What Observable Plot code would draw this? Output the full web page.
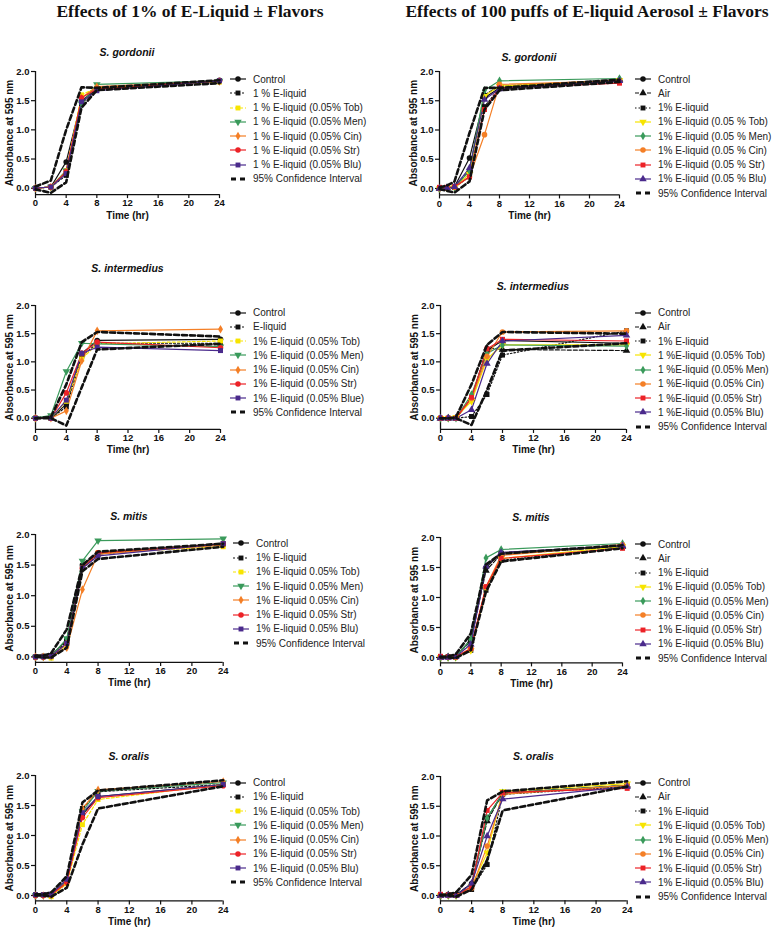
<!DOCTYPE html>
<html><head><meta charset="utf-8">
<script src="https://cdn.jsdelivr.net/npm/d3@7"></script>
<script src="https://cdn.jsdelivr.net/npm/@observablehq/plot@0.6"></script>
<style>
html,body{margin:0;padding:0;background:#fff;}
body{width:777px;height:929px;overflow:hidden;position:relative;font-family:"Liberation Sans",Arial,sans-serif;color:#111;}
.main-title{position:absolute;font-family:"Liberation Serif","Times New Roman",serif;font-weight:bold;font-size:17.5px;white-space:nowrap;transform:translateX(-50%);line-height:20px;}
.ptitle{position:absolute;font-weight:bold;font-style:italic;font-size:10.5px;white-space:nowrap;transform:translate(-50%,-50%);line-height:1;}
.lrow{position:absolute;display:flex;align-items:center;height:14px;font-size:10px;white-space:nowrap;color:#222;}
.lrow svg{flex:none;}
.lrow span{margin-left:7px;}
</style></head>
<body>
<div class="main-title" style="left:190px;top:1px;">Effects of 1% of E-Liquid ± Flavors</div>
<div class="main-title" style="left:587px;top:1px;">Effects of 100 puffs of E-liquid Aerosol ± Flavors</div>
<script>
// ---------- DATA ----------
const timesA = [0, 2, 4, 6, 8, 24];
const timesB = [0, 1, 2, 4, 6, 8, 24];

const liquidKeys = ["Control", "E-liquid", "Tob", "Men", "Cin", "Str", "Blu"];
const aerosolKeys = ["Control", "Air", "E-liquid", "Tob", "Men", "Cin", "Str", "Blu"];
const ciKeys = ["CI upper", "CI lower"];

// rows follow liquidKeys / aerosolKeys, then CI upper, CI lower
const gordoniiLiquid = [
  [0, 0.02, 0.45, 1.50, 1.70, 1.85],
  [0, 0.02, 0.22, 1.45, 1.70, 1.83],
  [0, 0.02, 0.30, 1.60, 1.72, 1.82],
  [0, 0.02, 0.30, 1.45, 1.78, 1.84],
  [0, 0.02, 0.28, 1.55, 1.74, 1.83],
  [0, 0.02, 0.28, 1.55, 1.70, 1.84],
  [0, 0.02, 0.25, 1.48, 1.67, 1.84],
  [0.03, 0.13, 1.00, 1.73, 1.72, 1.85],
  [-0.02, -0.08, 0.10, 1.38, 1.68, 1.80]
];
const gordoniiAerosol = [
  [0, 0.01, 0.03, 0.52, 1.55, 1.72, 1.85],
  [0, 0.01, 0.03, 0.30, 1.60, 1.75, 1.86],
  [0, 0.01, 0.02, 0.20, 1.40, 1.72, 1.84],
  [0, 0.01, 0.02, 0.25, 1.58, 1.75, 1.85],
  [0, 0.01, 0.02, 0.30, 1.68, 1.84, 1.88],
  [0, 0.01, 0.02, 0.20, 0.92, 1.78, 1.84],
  [0.02, 0.02, 0.03, 0.20, 1.35, 1.72, 1.80],
  [0, 0.01, 0.03, 0.35, 1.52, 1.70, 1.84],
  [0.02, 0.05, 0.12, 0.95, 1.72, 1.72, 1.86],
  [-0.01, -0.04, -0.07, 0.12, 1.35, 1.68, 1.82]
];
const intermediusLiquid = [
  [0, 0, 0.25, 1.15, 1.38, 1.40],
  [0, 0, 0.20, 1.10, 1.33, 1.33],
  [0, 0, 0.30, 1.05, 1.32, 1.37],
  [0, 0.05, 0.83, 1.33, 1.32, 1.27],
  [0, 0, 0.13, 1.02, 1.55, 1.58],
  [0, 0, 0.45, 1.15, 1.35, 1.25],
  [0, 0, 0.32, 1.15, 1.26, 1.20],
  [0, 0.02, 0.60, 1.35, 1.53, 1.45],
  [0, 0, -0.13, 0.55, 1.22, 1.32]
];
const intermediusAerosol = [
  [0, 0, 0, 0.35, 1.20, 1.38, 1.33],
  [0, 0, 0, 0.35, 1.25, 1.22, 1.20],
  [0, 0, 0, 0.03, 0.42, 1.12, 1.55],
  [0, 0, 0.02, 0.30, 1.05, 1.30, 1.30],
  [0, 0, 0, 0.42, 1.15, 1.30, 1.28],
  [0, 0, 0, 0.35, 1.10, 1.53, 1.55],
  [0, 0, 0, 0.37, 1.23, 1.40, 1.37],
  [0, 0, 0, 0.15, 0.97, 1.37, 1.47],
  [0, 0, 0.02, 0.60, 1.30, 1.53, 1.50],
  [0, 0, 0, -0.12, 0.50, 1.20, 1.33]
];
const mitisLiquid = [
  [0, 0.01, 0.02, 0.28, 1.50, 1.70, 1.83],
  [0, 0.01, 0.02, 0.25, 1.45, 1.68, 1.85],
  [0, 0, -0.02, 0.20, 1.45, 1.70, 1.80],
  [0, 0, 0.01, 0.30, 1.57, 1.90, 1.93],
  [0, 0, 0.01, 0.15, 1.10, 1.68, 1.83],
  [0, 0, 0.01, 0.22, 1.45, 1.70, 1.85],
  [0, 0, 0.01, 0.22, 1.45, 1.65, 1.85],
  [0.02, 0.02, 0.06, 0.45, 1.50, 1.72, 1.85],
  [0, -0.01, -0.01, 0.15, 1.40, 1.60, 1.80]
];
const mitisAerosol = [
  [0, 0.01, 0.01, 0.30, 1.50, 1.75, 1.85],
  [0, 0.01, 0.01, 0.28, 1.45, 1.72, 1.85],
  [0, 0.01, 0.01, 0.12, 1.12, 1.62, 1.83],
  [0, 0, 0, 0.12, 1.15, 1.65, 1.85],
  [0, 0, 0.01, 0.30, 1.66, 1.80, 1.90],
  [0, 0, 0.01, 0.15, 1.18, 1.70, 1.88],
  [0.02, 0.01, 0.01, 0.15, 1.18, 1.65, 1.82],
  [0, 0, 0.01, 0.22, 1.52, 1.75, 1.86],
  [0.01, 0.02, 0.05, 0.40, 1.55, 1.73, 1.87],
  [0, 0, -0.01, 0.12, 1.10, 1.60, 1.82]
];
const oralisLiquid = [
  [0.01, 0.01, 0.02, 0.25, 1.35, 1.65, 1.85],
  [0.01, 0.01, 0.02, 0.25, 1.45, 1.73, 1.85],
  [0, 0, -0.02, 0.20, 1.18, 1.60, 1.85],
  [0, 0, 0, 0.25, 1.40, 1.74, 1.88],
  [0, 0, 0.01, 0.20, 1.45, 1.76, 1.90],
  [0, 0, 0.01, 0.22, 1.30, 1.63, 1.83],
  [0.01, 0.01, 0.02, 0.27, 1.38, 1.65, 1.85],
  [0.02, 0.02, 0.05, 0.32, 1.55, 1.75, 1.92],
  [0, 0, -0.02, 0.13, 0.85, 1.45, 1.82]
];
const oralisAerosol = [
  [0, 0.01, 0.01, 0.20, 1.30, 1.72, 1.85],
  [0, 0.01, 0.01, 0.20, 1.25, 1.72, 1.85],
  [0, 0.01, 0.01, 0.10, 0.52, 1.70, 1.83],
  [0, 0, 0, 0.15, 0.72, 1.75, 1.88],
  [0, 0, 0, 0.15, 1.30, 1.72, 1.85],
  [0, 0, 0, 0.12, 0.83, 1.70, 1.85],
  [0.02, 0.01, 0, 0.15, 1.43, 1.73, 1.80],
  [0, 0, 0, 0.20, 1.00, 1.62, 1.83],
  [0.01, 0.02, 0.05, 0.35, 1.60, 1.75, 1.92],
  [0, 0, -0.02, 0.10, 0.60, 1.43, 1.83]
];

const yTicks = [0, 0.5, 1.0, 1.5, 2.0];
const xTicks = [0, 4, 8, 12, 16, 20, 24];

const gordoniiLiquidLabels = ["Control", "1 % E-liquid", "1 % E-liquid (0.05% Tob)", "1 % E-liquid (0.05% Men)", "1 % E-liquid (0.05% Cin)", "1 % E-liquid (0.05% Str)", "1 % E-liquid (0.05% Blu)", "95% Confidence Interval"];
const gordoniiAerosolLabels = ["Control", "Air", "1% E-liquid", "1% E-liquid (0.05 % Tob)", "1% E-liquid (0.05 % Men)", "1% E-liquid (0.05 % Cin)", "1% E-liquid (0.05 % Str)", "1% E-liquid (0.05 % Blu)", "95% Confidence Interval"];
const intermediusLiquidLabels = ["Control", "E-liquid", "1% E-liquid (0.05% Tob)", "1% E-liquid (0.05% Men)", "1% E-liquid (0.05% Cin)", "1% E-liquid (0.05% Str)", "1% E-liquid (0.05% Blue)", "95% Confidence Interval"];
const intermediusAerosolLabels = ["Control", "Air", "1% E-liquid", "1 %E-liquid (0.05% Tob)", "1 %E-liquid (0.05% Men)", "1 %E-liquid (0.05% Cin)", "1 %E-liquid (0.05% Str)", "1 %E-liquid (0.05% Blu)", "95% Confidence Interval"];
const mitisLiquidLabels = ["Control", "1% E-liquid", "1% E-liquid 0.05% Tob)", "1% E-liquid 0.05% Men)", "1% E-liquid 0.05% Cin)", "1% E-liquid 0.05% Str)", "1% E-liquid 0.05% Blu)", "95% Confidence Interval"];
const oralisLiquidLabels = ["Control", "1% E-liquid", "1% E-liquid (0.05% Tob)", "1% E-liquid (0.05% Men)", "1% E-liquid (0.05% Cin)", "1% E-liquid (0.05% Str)", "1% E-liquid (0.05% Blu)", "95% Confidence Interval"];
const aerosolLabels = ["Control", "Air", "1% E-liquid", "1% E-liquid (0.05% Tob)", "1% E-liquid (0.05% Men)", "1% E-liquid (0.05% Cin)", "1% E-liquid (0.05% Str)", "1% E-liquid (0.05% Blu)", "95% Confidence Interval"];

// ---------- STYLES ----------
const YEL = "#f7e400", GRN = "#3a9a5b", ORG = "#f47f26", RED = "#ec2227", PUR = "#4a2a8c";
const liquidStyles = {
  "Control": {color: "#111", dash: null, symbol: "circle", rot: 0},
  "E-liquid": {color: "#111", dash: "2,2", symbol: "square", rot: 0},
  "Tob": {color: YEL, dash: "3,2", symbol: "square", rot: 0},
  "Men": {color: GRN, dash: null, symbol: "triangle", rot: 180},
  "Cin": {color: ORG, dash: null, symbol: "diamond", rot: 0},
  "Str": {color: RED, dash: null, symbol: "circle", rot: 0},
  "Blu": {color: PUR, dash: null, symbol: "square", rot: 0}
};
const aerosolStyles = {
  "Control": {color: "#111", dash: null, symbol: "circle", rot: 0},
  "Air": {color: "#111", dash: "4,2", symbol: "triangle", rot: 0},
  "E-liquid": {color: "#111", dash: "1.5,2", symbol: "square", rot: 0},
  "Tob": {color: YEL, dash: null, symbol: "triangle", rot: 180},
  "Men": {color: GRN, dash: null, symbol: "diamond", rot: 0},
  "Cin": {color: ORG, dash: null, symbol: "circle", rot: 0},
  "Str": {color: RED, dash: null, symbol: "square", rot: 0},
  "Blu": {color: PUR, dash: null, symbol: "triangle", rot: 0}
};

// ---------- LAYOUT ----------
const panels = [
  {title: "S. gordonii", values: gordoniiLiquid, times: timesA, kind: "liquid", labels: gordoniiLiquidLabels, x0: 35, x24: 219, y2: 71, y0: 187.7, yMin: -0.11, titleY: 52, legX: 230, legY: 79},
  {title: "S. gordonii", values: gordoniiAerosol, times: timesB, kind: "aerosol", labels: gordoniiAerosolLabels, x0: 439, x24: 619, y2: 71, y0: 188, yMin: -0.11, titleY: 56.7, legX: 635, legY: 79},
  {title: "S. intermedius", values: intermediusLiquid, times: timesA, kind: "liquid", labels: intermediusLiquidLabels, x0: 35, x24: 220, y2: 305, y0: 417.7, yMin: -0.2, titleY: 268, legX: 230, legY: 312.7},
  {title: "S. intermedius", values: intermediusAerosol, times: timesB, kind: "aerosol", labels: intermediusAerosolLabels, x0: 440, x24: 626, y2: 305, y0: 417.7, yMin: -0.2, titleY: 285.7, legX: 635, legY: 312.7},
  {title: "S. mitis", values: mitisLiquid, times: timesB, kind: "liquid", labels: mitisLiquidLabels, x0: 35, x24: 222.7, y2: 534.3, y0: 656.7, yMin: -0.09, titleY: 516, legX: 233, legY: 543.3},
  {title: "S. mitis", values: mitisAerosol, times: timesB, kind: "aerosol", labels: aerosolLabels, x0: 440, x24: 622, y2: 536.7, y0: 656.7, yMin: -0.09, titleY: 516.7, legX: 635, legY: 544},
  {title: "S. oralis", values: oralisLiquid, times: timesB, kind: "liquid", labels: oralisLiquidLabels, x0: 35, x24: 222.7, y2: 775, y0: 895, yMin: -0.09, titleY: 756, legX: 230, legY: 782.7},
  {title: "S. oralis", values: oralisAerosol, times: timesB, kind: "aerosol", labels: aerosolLabels, x0: 440, x24: 626.7, y2: 776, y0: 895, yMin: -0.09, titleY: 756, legX: 635, legY: 782.7}
];

const d3Sym = {circle: d3.symbolCircle, square: d3.symbolSquare, triangle: d3.symbolTriangle, diamond: d3.symbolDiamond};

function drawPanel(p) {
  const mL = 36, mT = 8, mR = 10, mB = 30;
  const unit = (p.y0 - p.y2) / 2;
  const plotW = p.x24 - p.x0;
  const plotH = (p.y0 - p.y2) + (-p.yMin) * unit;
  const width = mL + plotW + mR, height = mT + plotH + mB;
  const keys = p.kind === "liquid" ? liquidKeys : aerosolKeys;
  const styles = p.kind === "liquid" ? liquidStyles : aerosolStyles;
  const allKeys = keys.concat(ciKeys);
  const rows = [];
  p.values.forEach((vals, i) => vals.forEach((v, j) => rows.push({key: allKeys[i], t: p.times[j], v})));
  const marks = [
    Plot.ruleX([0], {y1: p.yMin, y2: 2, stroke: "#111", strokeWidth: 1.3}),
    Plot.ruleY([p.yMin], {x1: 0, x2: 24, stroke: "#111", strokeWidth: 1.3}),
    Plot.axisY({ticks: yTicks, tickFormat: d3.format(".1f"), tickSize: 4, tickPadding: 2, label: null, strokeWidth: 1.2}),
    Plot.axisX({ticks: xTicks, tickSize: 4, tickPadding: 1, label: null, strokeWidth: 1.2}),
    Plot.text(["Absorbance at 595 nm"], {frameAnchor: "left", textAnchor: "middle", rotate: -90, dx: -26, fontSize: 10, fontWeight: "bold"}),
    Plot.text(["Time (hr)"], {frameAnchor: "bottom", dy: 24, fontSize: 10, fontWeight: "bold"})
  ];
  keys.forEach(k => {
    const s = styles[k];
    marks.push(Plot.line(rows.filter(r => r.key === k), {x: "t", y: "v", stroke: s.color, strokeWidth: 1.2, strokeDasharray: s.dash || undefined}));
  });
  keys.forEach(k => {
    const s = styles[k];
    marks.push(Plot.dot(rows.filter(r => r.key === k), {x: "t", y: "v", symbol: s.symbol, fill: s.color, stroke: "none", r: s.symbol === "diamond" ? 2.6 : 2.8, rotate: s.rot}));
  });
  ciKeys.forEach(k => {
    marks.push(Plot.line(rows.filter(r => r.key === k), {x: "t", y: "v", stroke: "#111", strokeWidth: 2.6, strokeDasharray: "5,3"}));
  });
  const svg = Plot.plot({
    width, height, marginLeft: mL, marginRight: mR, marginTop: mT, marginBottom: mB,
    x: {domain: [0, 24]}, y: {domain: [p.yMin, 2]},
    style: {fontFamily: "'Liberation Sans', Arial, sans-serif", fontSize: "9.5px", fontWeight: "bold", color: "#111", background: "transparent", overflow: "visible"},
    marks
  });
  svg.style.position = "absolute";
  svg.style.left = (p.x0 - mL) + "px";
  svg.style.top = (p.y2 - mT) + "px";
  document.body.appendChild(svg);

  // panel title
  const t = document.createElement("div");
  t.className = "ptitle";
  t.textContent = p.title;
  t.style.left = ((p.x0 + p.x24) / 2) + "px";
  t.style.top = p.titleY + "px";
  document.body.appendChild(t);

  // legend
  const items = keys.map(k => ({k, s: styles[k]})).concat([{k: "CI"}]);
  items.forEach((it, i) => {
    const cy = p.legY + i * 14.25;
    const row = d3.select(document.body).append("div").attr("class", "lrow")
      .style("left", p.legX + "px").style("top", (cy - 7) + "px");
    const sw = row.append("svg").attr("width", 16).attr("height", 14);
    if (it.k === "CI") {
      sw.append("line").attr("x1", 1).attr("x2", 15).attr("y1", 7).attr("y2", 7)
        .attr("stroke", "#111").attr("stroke-width", 2.8).attr("stroke-dasharray", "5,4");
    } else {
      sw.append("line").attr("x1", 0).attr("x2", 16).attr("y1", 7).attr("y2", 7)
        .attr("stroke", it.s.color).attr("stroke-width", 1.2).attr("stroke-dasharray", it.s.dash || null);
      sw.append("path").attr("d", d3.symbol(d3Sym[it.s.symbol], it.s.symbol === "diamond" ? 21 : 24)())
        .attr("transform", `translate(8,7) rotate(${it.s.rot})`).attr("fill", it.s.color);
    }
    row.append("span").text(p.labels[i]);
  });
}

panels.forEach(drawPanel);
</script>
</body></html>
